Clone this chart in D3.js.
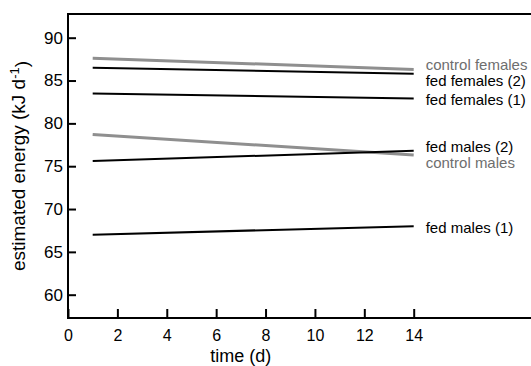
<!DOCTYPE html>
<html>
<head>
<meta charset="utf-8">
<script src="https://cdn.jsdelivr.net/npm/d3@7"></script>
<style>
  body { margin: 0; background: #fff; }
  text { font-family: "Liberation Sans", Arial, Helvetica, sans-serif; }
</style>
</head>
<body>
<div id="chart"></div>
<script>
// data (regression lines, start at day 1, end at day 14)
const days = [1, 14];
const seriesNames = ["control females", "fed females (2)", "fed females (1)", "control males", "fed males (2)", "fed males (1)"];
const seriesStart = [87.6, 86.5, 83.5, 78.7, 75.6, 67.0];
const seriesEnd = [86.3, 85.8, 82.9, 76.3, 76.8, 68.0];
const xTicks = [0, 2, 4, 6, 8, 10, 12, 14];
const yTicks = [60, 65, 70, 75, 80, 85, 90];

// svg config
const width = 531, height = 366;
const frame = { left: 68, top: 14, bottom: 318 };

const svg = d3.select("#chart").append("svg")
  .attr("width", width)
  .attr("height", height);

const x = d3.scaleLinear().domain([0, 14]).range([68, 413.7]);
const y = d3.scaleLinear().domain([60, 90]).range([294.7, 37.7]);

// axes, ticks pointing inwards
const yAxis = d3.axisLeft(y).tickValues(yTicks).tickSize(-8).tickPadding(5);
const xAxis = d3.axisBottom(x).tickValues(xTicks).tickSize(-9).tickPadding(12);

const gy = svg.append("g")
  .attr("transform", `translate(${frame.left},0)`)
  .call(yAxis);
const gx = svg.append("g")
  .attr("transform", `translate(0,${frame.bottom})`)
  .call(xAxis);

[gx, gy].forEach(g => {
  g.select(".domain").remove();
  g.selectAll(".tick line").attr("stroke", "#000").attr("stroke-width", 2);
  g.selectAll(".tick text").attr("fill", "#000").attr("font-size", "17px");
});
gx.selectAll(".tick text").attr("font-size", "16px");

// frame: open at the right, runs to the edge of the picture
svg.append("path")
  .attr("d", `M${width},${frame.top}H${frame.left}V${frame.bottom}H${width}`)
  .attr("fill", "none")
  .attr("stroke", "#000")
  .attr("stroke-width", 2);

// lines
const series = seriesNames.map((name, i) => ({
  name,
  control: name.startsWith("control"),
  points: [[days[0], seriesStart[i]], [days[1], seriesEnd[i]]]
}));

const line = d3.line().x(d => x(d[0])).y(d => y(d[1]));

svg.selectAll("path.series")
  .data(series)
  .enter().append("path")
  .attr("class", "series")
  .attr("d", d => line(d.points))
  .attr("fill", "none")
  .attr("stroke", d => d.control ? "#8f8f8f" : "#000")
  .attr("stroke-width", d => d.control ? 3 : 2);

// labels at the line ends, nudged apart so they do not overlap
const labels = series.map(d => ({ ...d, ly: y(d.points[1][1]) }))
  .sort((a, b) => a.ly - b.ly);
const gap = 16;
for (let iter = 0; iter < 50; iter++) {
  for (let i = 1; i < labels.length; i++) {
    const overlap = gap - (labels[i].ly - labels[i - 1].ly);
    if (overlap > 0) {
      labels[i - 1].ly -= overlap / 2;
      labels[i].ly += overlap / 2;
    }
  }
}

svg.selectAll("text.label")
  .data(labels)
  .enter().append("text")
  .attr("class", "label")
  .attr("x", x(14) + 12)
  .attr("y", d => d.ly + 1.5)
  .attr("dy", "0.35em")
  .attr("font-size", "15px")
  .attr("fill", d => d.control ? "#6e6e6e" : "#000")
  .text(d => d.name);

// axis titles
svg.append("text")
  .attr("x", (x(0) + x(14)) / 2)
  .attr("y", 362)
  .attr("text-anchor", "middle")
  .attr("font-size", "18px")
  .attr("fill", "#000")
  .text("time (d)");

const yt = svg.append("text")
  .attr("transform", `translate(25,${(frame.top + frame.bottom) / 2}) rotate(-90)`)
  .attr("text-anchor", "middle")
  .attr("font-size", "19px")
  .attr("fill", "#000");
yt.append("tspan").text("estimated energy (kJ d");
yt.append("tspan").attr("dy", "-0.45em").attr("font-size", "13px").text("-1");
yt.append("tspan").attr("dy", "0.45em").text(")");
</script>
</body>
</html>
